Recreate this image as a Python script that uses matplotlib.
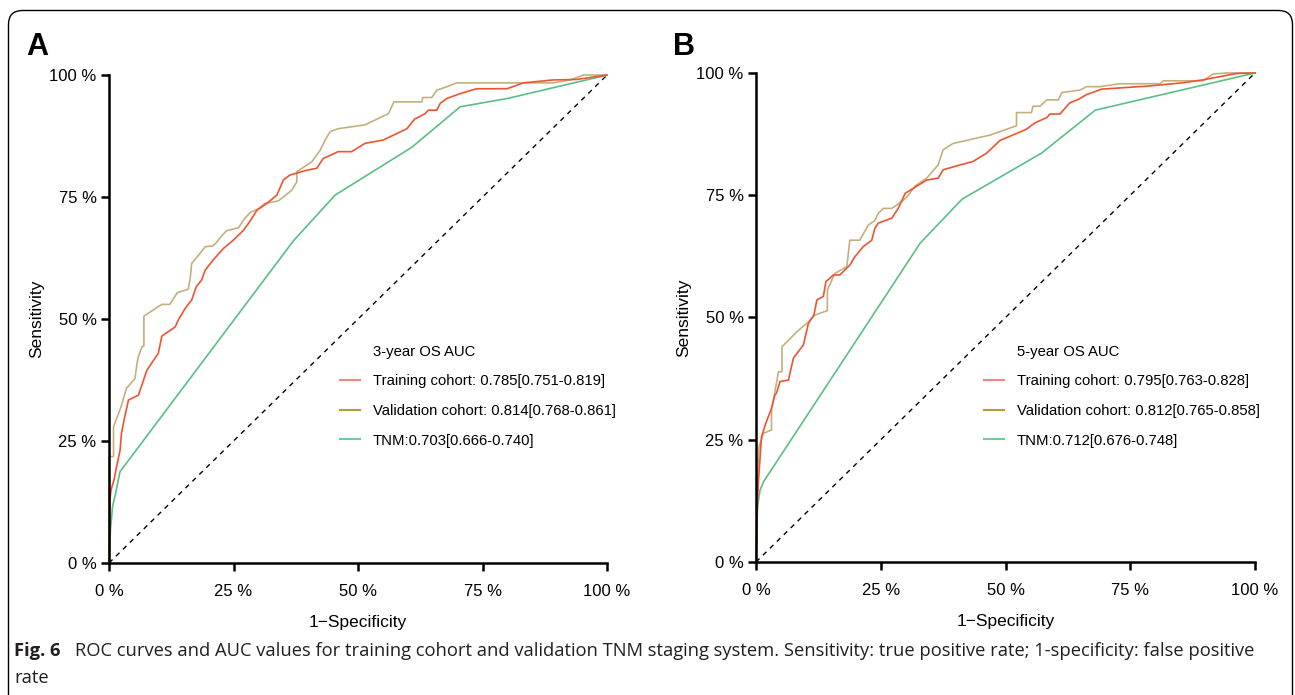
import matplotlib
matplotlib.use('Agg')
import matplotlib.pyplot as plt
from matplotlib.patches import FancyBboxPatch
from matplotlib.lines import Line2D
from matplotlib.ticker import FuncFormatter

plt.rcParams['font.family'] = ['Liberation Sans', 'DejaVu Sans']

# ---- panel A: 3-year OS ----
a_train_fpr = [0, 0.002, 0.004, 0.010, 0.015, 0.022, 0.025, 0.031, 0.039, 0.059, 0.076, 0.099, 0.106,
               0.133, 0.139, 0.153, 0.166, 0.175, 0.186, 0.193, 0.209, 0.230, 0.250, 0.270, 0.280, 0.297,
               0.317, 0.337, 0.350, 0.363, 0.397, 0.417, 0.430, 0.460, 0.487, 0.514, 0.551, 0.598, 0.614,
               0.635, 0.641, 0.658, 0.665, 0.678, 0.705, 0.728, 0.738, 0.799, 0.832, 0.892, 0.939, 0.966, 1.0]
a_train_tpr = [0, 0.13, 0.15, 0.17, 0.197, 0.23, 0.266, 0.297, 0.334, 0.344, 0.395, 0.43, 0.465,
               0.484, 0.498, 0.522, 0.539, 0.566, 0.580, 0.600, 0.621, 0.645, 0.662, 0.682, 0.696, 0.723,
               0.737, 0.754, 0.785, 0.795, 0.805, 0.809, 0.829, 0.843, 0.843, 0.860, 0.867, 0.890, 0.910,
               0.921, 0.928, 0.928, 0.942, 0.952, 0.962, 0.969, 0.972, 0.972, 0.984, 0.990, 0.991, 0.995, 1.0]
a_valid_fpr = [0, 0, 0.009, 0.009, 0.024, 0.035, 0.052, 0.056, 0.059, 0.066, 0.070, 0.070, 0.106,
               0.122, 0.137, 0.159, 0.163, 0.166, 0.183, 0.193, 0.209, 0.215, 0.226, 0.236, 0.260, 0.270,
               0.283, 0.300, 0.313, 0.340, 0.367, 0.377, 0.377, 0.407, 0.424, 0.434, 0.444, 0.460, 0.514,
               0.561, 0.572, 0.628, 0.630, 0.648, 0.658, 0.678, 0.698, 0.892, 0.926, 0.952, 1.0]
a_valid_tpr = [0, 0.218, 0.218, 0.279, 0.320, 0.358, 0.378, 0.408, 0.423, 0.443, 0.445, 0.506, 0.530,
               0.530, 0.554, 0.561, 0.583, 0.614, 0.635, 0.648, 0.650, 0.656, 0.670, 0.681, 0.687, 0.703,
               0.718, 0.726, 0.737, 0.742, 0.764, 0.781, 0.802, 0.822, 0.846, 0.867, 0.884, 0.890, 0.898,
               0.921, 0.945, 0.945, 0.954, 0.954, 0.969, 0.976, 0.984, 0.984, 0.990, 1.0, 1.0]
a_tnm_fpr = [0, 0.003, 0.007, 0.013, 0.022, 0.370, 0.454, 0.608, 0.705, 0.800, 1.0]
a_tnm_tpr = [0, 0.07, 0.115, 0.142, 0.187, 0.660, 0.754, 0.852, 0.935, 0.952, 1.0]
a_labels = ['3-year OS AUC',
            'Training cohort: 0.785[0.751-0.819]',
            'Validation cohort: 0.814[0.768-0.861]',
            'TNM:0.703[0.666-0.740]']

# ---- panel B: 5-year OS ----
b_train_fpr = [0, 0.002, 0.003, 0.005, 0.011, 0.020, 0.030, 0.038, 0.041, 0.048, 0.065, 0.068, 0.075,
               0.095, 0.105, 0.116, 0.122, 0.135, 0.140, 0.155, 0.168, 0.188, 0.198, 0.215, 0.232, 0.238,
               0.245, 0.272, 0.285, 0.299, 0.315, 0.342, 0.365, 0.375, 0.402, 0.435, 0.462, 0.489, 0.542,
               0.559, 0.583, 0.589, 0.609, 0.629, 0.646, 0.663, 0.693, 0.783, 0.856, 0.896, 0.963, 1.0]
b_train_tpr = [0, 0.08, 0.127, 0.168, 0.256, 0.285, 0.311, 0.342, 0.345, 0.369, 0.372, 0.386, 0.417,
               0.444, 0.488, 0.505, 0.536, 0.543, 0.573, 0.587, 0.587, 0.607, 0.624, 0.645, 0.658, 0.682,
               0.693, 0.703, 0.723, 0.754, 0.764, 0.781, 0.785, 0.802, 0.810, 0.819, 0.836, 0.862, 0.885,
               0.898, 0.909, 0.916, 0.916, 0.939, 0.946, 0.956, 0.967, 0.973, 0.980, 0.986, 0.999, 1.0]
b_valid_fpr = [0, 0.003, 0.006, 0.015, 0.031, 0.031, 0.035, 0.039, 0.045, 0.052, 0.052, 0.082, 0.105,
               0.118, 0.143, 0.143, 0.158, 0.182, 0.188, 0.208, 0.225, 0.238, 0.245, 0.255, 0.272, 0.292,
               0.302, 0.319, 0.342, 0.365, 0.375, 0.395, 0.469, 0.522, 0.522, 0.552, 0.555, 0.569, 0.583,
               0.606, 0.613, 0.649, 0.663, 0.689, 0.729, 0.810, 0.816, 0.896, 0.916, 0.943, 1.0]
b_valid_tpr = [0, 0.181, 0.236, 0.263, 0.270, 0.311, 0.331, 0.355, 0.389, 0.389, 0.440, 0.471, 0.491,
               0.505, 0.514, 0.556, 0.590, 0.604, 0.658, 0.658, 0.689, 0.698, 0.713, 0.723, 0.723, 0.737,
               0.746, 0.769, 0.785, 0.812, 0.843, 0.856, 0.873, 0.892, 0.919, 0.919, 0.932, 0.932, 0.945,
               0.945, 0.960, 0.965, 0.972, 0.972, 0.978, 0.978, 0.984, 0.984, 0.998, 1.0, 1.0]
b_tnm_fpr = [0, 0.003, 0.008, 0.015, 0.329, 0.413, 0.572, 0.680, 1.0]
b_tnm_tpr = [0, 0.113, 0.147, 0.164, 0.652, 0.742, 0.836, 0.924, 1.0]
b_labels = ['5-year OS AUC',
            'Training cohort: 0.795[0.763-0.828]',
            'Validation cohort: 0.812[0.765-0.858]',
            'TNM:0.712[0.676-0.748]']

ticks = [0, 0.25, 0.5, 0.75, 1.0]
line_colors = ['#EF5430', '#C3B07E', '#5CBD85']
handle_colors = ['#F4877A', '#ADA035', '#6CCF98']

fig = plt.figure(figsize=(12.95, 6.95), dpi=100)

# background layer in pixel units: frame, panel letters, caption
bg = fig.add_axes([0, 0, 1, 1], zorder=-1)
bg.set_xlim(0, 1295)
bg.set_ylim(695, 0)
bg.axis('off')
bg.add_patch(FancyBboxPatch((8.5, 10.5), 1284, 720, boxstyle='round,pad=0,rounding_size=14',
                            fc='none', ec='black', lw=1.0))
bg.text(26, 55, 'A', fontsize=22, fontweight='bold', va='baseline')
bg.text(673, 55, 'B', fontsize=22, fontweight='bold', va='baseline')
cap_font = ['Open Sans', 'DejaVu Sans']
bg.text(14, 651, 'Fig. 6', fontsize=13.2, fontweight='bold', family=cap_font, va='center', color='#231F20')
bg.text(75, 651, 'ROC curves and AUC values for training cohort and validation TNM staging system. '
        'Sensitivity: true positive rate; 1-specificity: false positive',
        fontsize=13.2, family=cap_font, va='center', color='#231F20')
bg.text(14, 678, 'rate', fontsize=13.2, family=cap_font, va='center', color='#231F20')

pct = FuncFormatter(lambda v, p: '%d %%' % round(v * 100))


def draw_panel(ax, curves, labels, leg_xy):
    ax.plot([0, 1], [0, 1], ls=(0, (3.5, 3.5)), color='black', lw=1.0)
    for (fpr, tpr), c in zip(curves[::-1], line_colors[::-1]):
        ax.plot(fpr, tpr, color=c, lw=1.2, clip_on=False)
    ax.set_xlim(0, 1)
    ax.set_ylim(0, 1)
    for s in ['top', 'right']:
        ax.spines[s].set_visible(False)
    for s in ['left', 'bottom']:
        ax.spines[s].set_linewidth(1.8)
    ax.set_xticks(ticks)
    ax.set_yticks(ticks)
    ax.xaxis.set_major_formatter(pct)
    ax.yaxis.set_major_formatter(pct)
    ax.tick_params(length=6, width=1.8, labelsize=12)
    ax.tick_params(axis='x', pad=9)
    ax.tick_params(axis='y', pad=3)
    ax.set_xlabel('1\u2212Specificity', fontsize=12.5, labelpad=12)
    ax.set_ylabel('Sensitivity', fontsize=12.5, labelpad=4)
    handles = [Line2D([], [], color='none')] + [Line2D([], [], color=c, lw=1.5) for c in handle_colors]
    ax.legend(handles, labels, loc='upper left', bbox_to_anchor=leg_xy, frameon=False,
              fontsize=10.7, handlelength=1.35, handletextpad=0.85, labelspacing=1.05,
              borderpad=0, borderaxespad=0)


ax_a = fig.add_axes([0.0842, 0.19, 0.3846, 0.702])
draw_panel(ax_a, [(a_train_fpr, a_train_tpr), (a_valid_fpr, a_valid_tpr), (a_tnm_fpr, a_tnm_tpr)],
           a_labels, (0.464, 0.447))
ax_b = fig.add_axes([0.5838, 0.1914, 0.3853, 0.7036])
draw_panel(ax_b, [(b_train_fpr, b_train_tpr), (b_valid_fpr, b_valid_tpr), (b_tnm_fpr, b_tnm_tpr)],
           b_labels, (0.457, 0.444))

fig.savefig('out.png', dpi=100)
